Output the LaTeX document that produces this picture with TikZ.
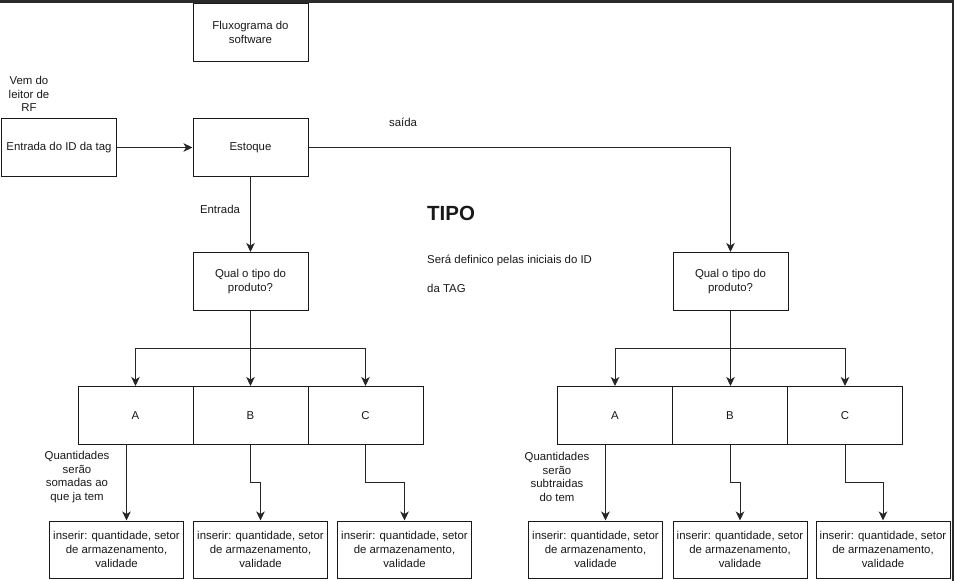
\documentclass[tikz,border=0pt]{standalone}
\usepackage{fontspec}
\setmainfont{Liberation Sans}
\usetikzlibrary{arrows.meta}
\begin{document}
\begin{tikzpicture}[x=1pt,y=-1pt,
  every node/.style={font=\fontsize{11.4}{13.6}\selectfont, text=black!90},
  box/.style={draw=black!90, line width=1pt, rectangle, inner sep=0pt, align=center},
  conn/.style={draw=black!85, line width=1pt, -{Stealth[length=9pt,width=8.5pt,inset=2.5pt]}},
  plain/.style={draw=black!85, line width=1pt},
  lbl/.style={align=center, inner sep=0pt}]
\useasboundingbox (0,0) rectangle (954,581);
\fill[white] (0,0) rectangle (954,581);
\fill[black!83] (0,0) rectangle (954,2.5);
\fill[black!83] (952,0) rectangle (954,581);
% top
\node[box, minimum width=115pt, minimum height=58pt] (title) at (250.5,32.5) {Fluxograma do\\software};
\node[box, minimum width=115pt, minimum height=58pt] (in) at (59,147.5) {Entrada do ID da tag};
\node[box, minimum width=115pt, minimum height=58pt] (est) at (250.5,147.5) {Estoque};
\node[lbl] (vem) at (29,94) {Vem do\\leitor de\\RF};
\draw[conn] (in) -- (est);
% labels
\node[lbl] (saida) at (403,122) {saída};
\node[lbl] (entr) at (220,209) {Entrada};
\node[lbl, anchor=west, font=\fontsize{20.5}{24}\selectfont\bfseries] (tipo) at (427,213) {TIPO};
\node[lbl, anchor=west] (sera) at (427,260) {Será definico pelas iniciais do ID};
\node[lbl, anchor=west] (datag) at (427,288) {da TAG};
% qual boxes
\node[box, minimum width=115pt, minimum height=58pt] (q1) at (250.5,281.5) {Qual o tipo do\\produto?};
\node[box, minimum width=115pt, minimum height=58pt] (q2) at (730.5,281.5) {Qual o tipo do\\produto?};
\draw[conn] (est) -- (q1);
\coordinate (c1) at (730.5,147.5);
\draw[conn] (est.east) -- (c1) -- (q2);
% ABC
\node[box, minimum width=115pt, minimum height=58pt] (a1) at (135.5,415.5) {A};
\node[box, minimum width=115pt, minimum height=58pt] (b1) at (250.5,415.5) {B};
\node[box, minimum width=115pt, minimum height=58pt] (cc1) at (365.5,415.5) {C};
\node[box, minimum width=115pt, minimum height=58pt] (a2) at (615,415.5) {A};
\node[box, minimum width=115pt, minimum height=58pt] (b2) at (730,415.5) {B};
\node[box, minimum width=115pt, minimum height=58pt] (cc2) at (845,415.5) {C};
% branches
\coordinate (j1) at (250.5,348.5);
\draw[plain] (q1.south) -- (j1);
\draw[conn] (j1) -| (a1.north);
\draw[conn] (j1) -| (cc1.north);
\draw[conn] (j1) -- (b1.north);
\coordinate (j2) at (730.5,348.5);
\draw[plain] (q2.south) -- (j2);
\draw[conn] (j2) -| (a2.north);
\draw[conn] (j2) -| (cc2.north);
\draw[conn] (j2) -- (b2.north -| j2);
% bottom boxes
\node[box, minimum width=134pt, minimum height=57pt] (i1) at (116.5,549.5) {inserir: quantidade, setor\\de armazenamento,\\validade};
\node[box, minimum width=134pt, minimum height=57pt] (i2) at (260.5,549.5) {inserir: quantidade, setor\\de armazenamento,\\validade};
\node[box, minimum width=134pt, minimum height=57pt] (i3) at (404.5,549.5) {inserir: quantidade, setor\\de armazenamento,\\validade};
\node[box, minimum width=134pt, minimum height=57pt] (i4) at (595.5,549.5) {inserir: quantidade, setor\\de armazenamento,\\validade};
\node[box, minimum width=134pt, minimum height=57pt] (i5) at (740,549.5) {inserir: quantidade, setor\\de armazenamento,\\validade};
\node[box, minimum width=134pt, minimum height=57pt] (i6) at (883,549.5) {inserir: quantidade, setor\\de armazenamento,\\validade};
% connectors down
\draw[conn] (a1.south -| 126.5,0) -- (i1.north -| 126.5,0);
\draw[conn] (b1.south) -- (250.5,482.5) -| (i2.north);
\draw[conn] (cc1.south) -- (365.5,482.5) -| (i3.north);
\draw[conn] (a2.south -| 605.5,0) -- (i4.north -| 605.5,0);
\draw[conn] (b2.south -| j2) -- (730.5,482.5) -| (i5.north);
\draw[conn] (cc2.south -| 845.5,0) -- (845.5,482.5) -| (i6.north);
% notes
\node[lbl] (q1n) at (77,477) {Quantidades\\serão\\somadas ao\\que ja tem};
\node[lbl] (q2n) at (557,477) {Quantidades\\serão\\subtraidas\\do tem};
\end{tikzpicture}
\end{document}
